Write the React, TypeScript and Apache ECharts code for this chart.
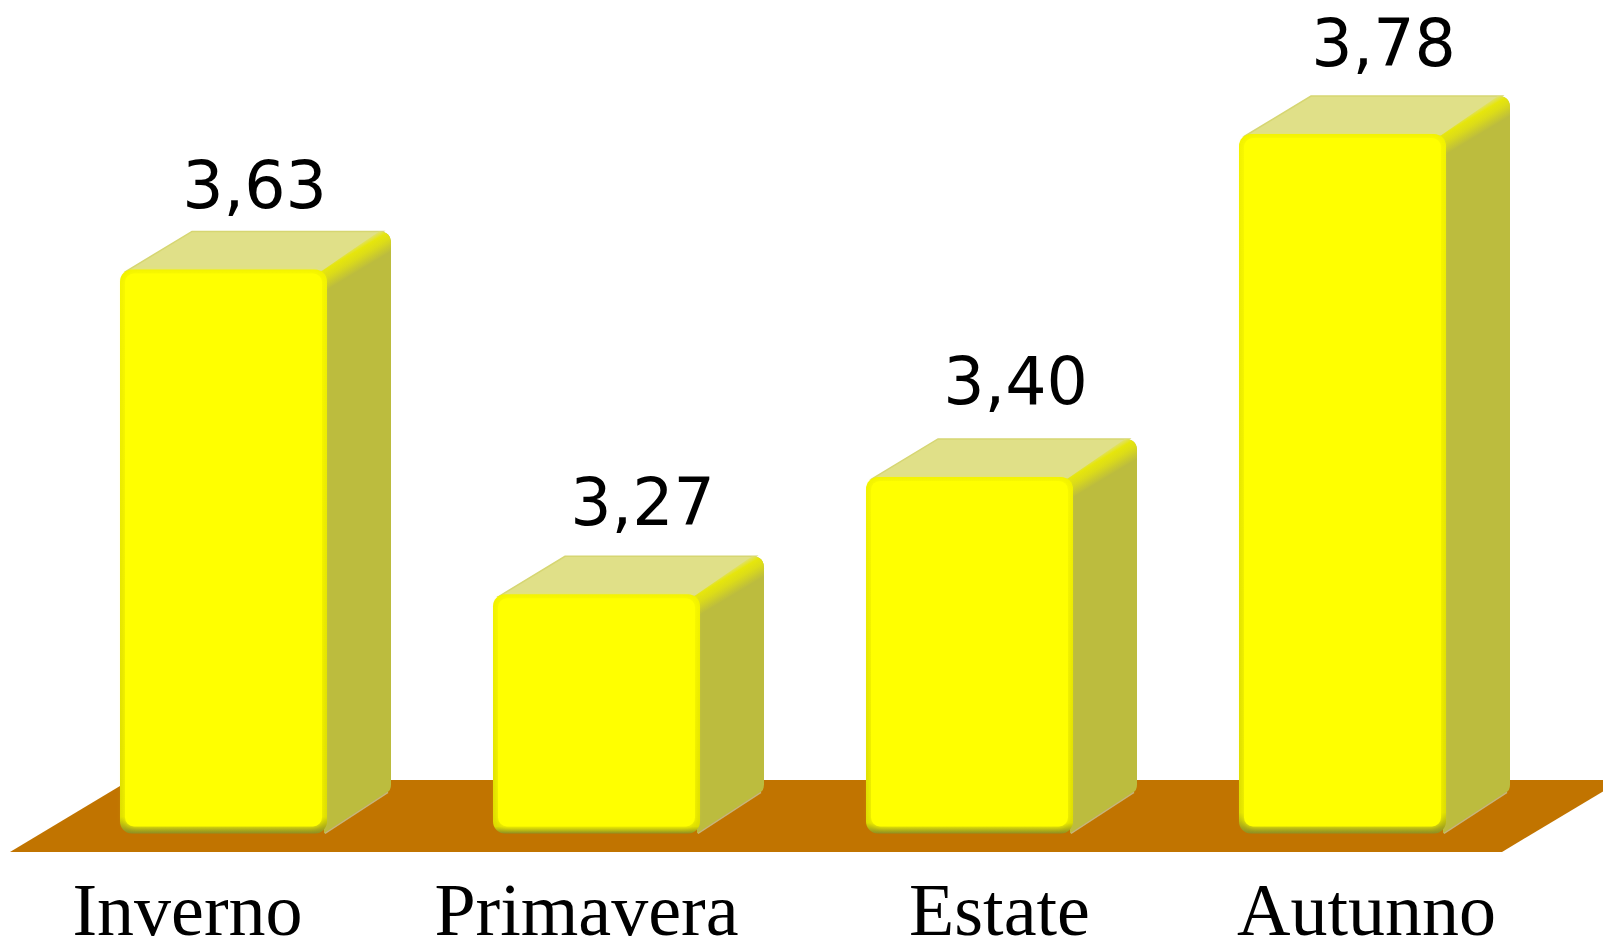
import React, { useEffect, useRef } from "react";
import * as echarts from "echarts";

const seasons = ["Inverno", "Primavera", "Estate", "Autunno"];
const scores = [3.63, 3.27, 3.4, 3.78];

// The bars stand slightly above the axis minimum, on the painted floor.
const BASE_VALUE = 3.005;

const W = 1603;
const H = 938;
const BAR_W = 207;
const DEPTH_X = 64;
const DEPTH_Y = 38;

// Hand-tuned label nudges relative to the bar's front centre and back top edge.
const VALUE_DX = [31, 46, 46, 41];
const VALUE_GAP = [13, 21, 25, 20];
const SEASON_PAD = [
  [0, 72, 0, 0],
  [0, 20, 0, 0],
  [0, 0, 0, 60],
  [0, 0, 0, 48],
];

const renderBar = (params: any, api: any) => {
  const i = api.value(0);
  const value = api.value(1);
  const [cx, top] = api.coord([i, value]);
  const [, base] = api.coord([i, BASE_VALUE]);
  const x0 = cx - BAR_W / 2;
  const x1 = cx + BAR_W / 2;
  const bx1 = x1 + DEPTH_X;
  const by = top - DEPTH_Y;
  const backBottom = base - DEPTH_Y - 5;
  const r = 12;

  // Right face, with rounded back corners.
  const side =
    `M${x1 - 6} ${top + 3}L${bx1 - r} ${by}Q${bx1} ${by} ${bx1} ${by + r}` +
    `L${bx1} ${backBottom - 6}Q${bx1} ${backBottom} ${bx1 - 4} ${backBottom + 2}L${x1 - 3} ${base}Z`;
  const topFace = `M${x0 + 6} ${top + 2}L${x0 + 72} ${by}L${bx1 - 8} ${by}L${x1 - 4} ${top + 2}Z`;

  // Lit chamfer: a strip along the front-to-back diagonal, shaded across its width.
  const midX = (x1 + bx1) / 2;
  const midY = (top + by) / 2;
  const chamfer =
    `M${x1 - 6} ${top + 2}L${bx1 - 12} ${by}Q${bx1} ${by} ${bx1} ${by + 12}` +
    `L${bx1} ${by + 26}L${x1} ${top + 22}Z`;
  const chamferFill = {
    type: "linear",
    global: true,
    x: midX - 3,
    y: midY - 5,
    x2: midX + 9,
    y2: midY + 15,
    colorStops: [
      { offset: 0, color: "#e0e070" },
      { offset: 0.22, color: "#e6e60c" },
      { offset: 0.5, color: "#dcdc18" },
      { offset: 1, color: "#bcbc3e" },
    ],
  };

  return {
    type: "group",
    children: [
      { type: "path", shape: { pathData: side }, style: { fill: "#bcbc3e" } },
      {
        type: "line",
        shape: { x1: x1 - 2, y1: base, x2: bx1 - 3, y2: backBottom + 2 },
        style: { stroke: "#c6b67c", lineWidth: 1.5 },
      },
      {
        type: "path",
        shape: { pathData: topFace },
        style: { fill: "#e0e088", stroke: "#d6d672", lineWidth: 1.5 },
      },
      { type: "path", shape: { pathData: chamfer }, style: { fill: chamferFill } },
      // Front face: narrow dark rim under the soft yellow panel.
      {
        type: "rect",
        shape: { x: x0, y: top, width: BAR_W, height: base - top, r: 12 },
        style: {
          fill: {
            type: "linear", x: 0, y: 0, x2: 0, y2: 1,
            colorStops: [
              { offset: 0, color: "#f2f200" },
              { offset: 0.97, color: "#dcdc00" },
              { offset: 1, color: "#8e8e24" },
            ],
          },
        },
      },
      {
        type: "rect",
        shape: { x: x0 + 5, y: top + 4, width: BAR_W - 10, height: base - top - 11, r: 9 },
        style: { fill: "#ffff00", shadowColor: "#ffff00", shadowBlur: 6 },
      },
    ],
  };
};

const renderScoreLabel = (params: any, api: any) => {
  const i = api.value(0);
  const value = api.value(1);
  const [cx, top] = api.coord([i, value]);
  return {
    type: "text",
    x: cx + VALUE_DX[i],
    y: top - DEPTH_Y - VALUE_GAP[i],
    style: {
      text: value.toFixed(2).replace(".", ","),
      fill: "#000000",
      font: '65px "DejaVu Sans"',
      align: "center",
      verticalAlign: "bottom",
    },
  };
};

export default function App() {
  const ref = useRef<HTMLDivElement>(null);

  useEffect(() => {
    document.body.style.margin = "0";
    const chart = echarts.init(ref.current!, null, { renderer: "svg" });
    chart.setOption({
      animation: false,
      backgroundColor: "#ffffff",
      grid: { left: 37, width: 1492, top: 134, height: 704, outerBoundsMode: "none" },
      xAxis: {
        type: "category",
        data: seasons.map((value, i) => ({
          value,
          textStyle: { padding: SEASON_PAD[i] },
        })),
        axisLine: { show: false },
        axisTick: { show: false },
        axisLabel: {
          show: true,
          interval: 0,
          margin: 35,
          fontFamily: '"Liberation Serif"',
          fontSize: 74,
          color: "#000000",
        },
      },
      yAxis: {
        type: "value",
        min: 3,
        max: 3.78,
        show: false,
        splitLine: { show: false },
      },
      graphic: [
        {
          type: "polygon",
          z: 0,
          silent: true,
          shape: { points: [[10, 852], [1502, 852], [1622, 780], [130, 780]] },
          style: { fill: "#c17400" },
        },
      ],
      series: [
        {
          type: "custom",
          name: "bars",
          z: 2,
          silent: true,
          encode: { x: 0, y: 1 },
          renderItem: renderBar,
          data: scores.map((v, i) => [i, v]),
        },
        {
          type: "custom",
          name: "labels",
          z: 3,
          silent: true,
          encode: { x: 0, y: 1 },
          renderItem: renderScoreLabel,
          data: scores.map((v, i) => [i, v]),
        },
      ],
    });
    return () => chart.dispose();
  }, []);

  return <div ref={ref} style={{ width: W, height: H }} />;
}
